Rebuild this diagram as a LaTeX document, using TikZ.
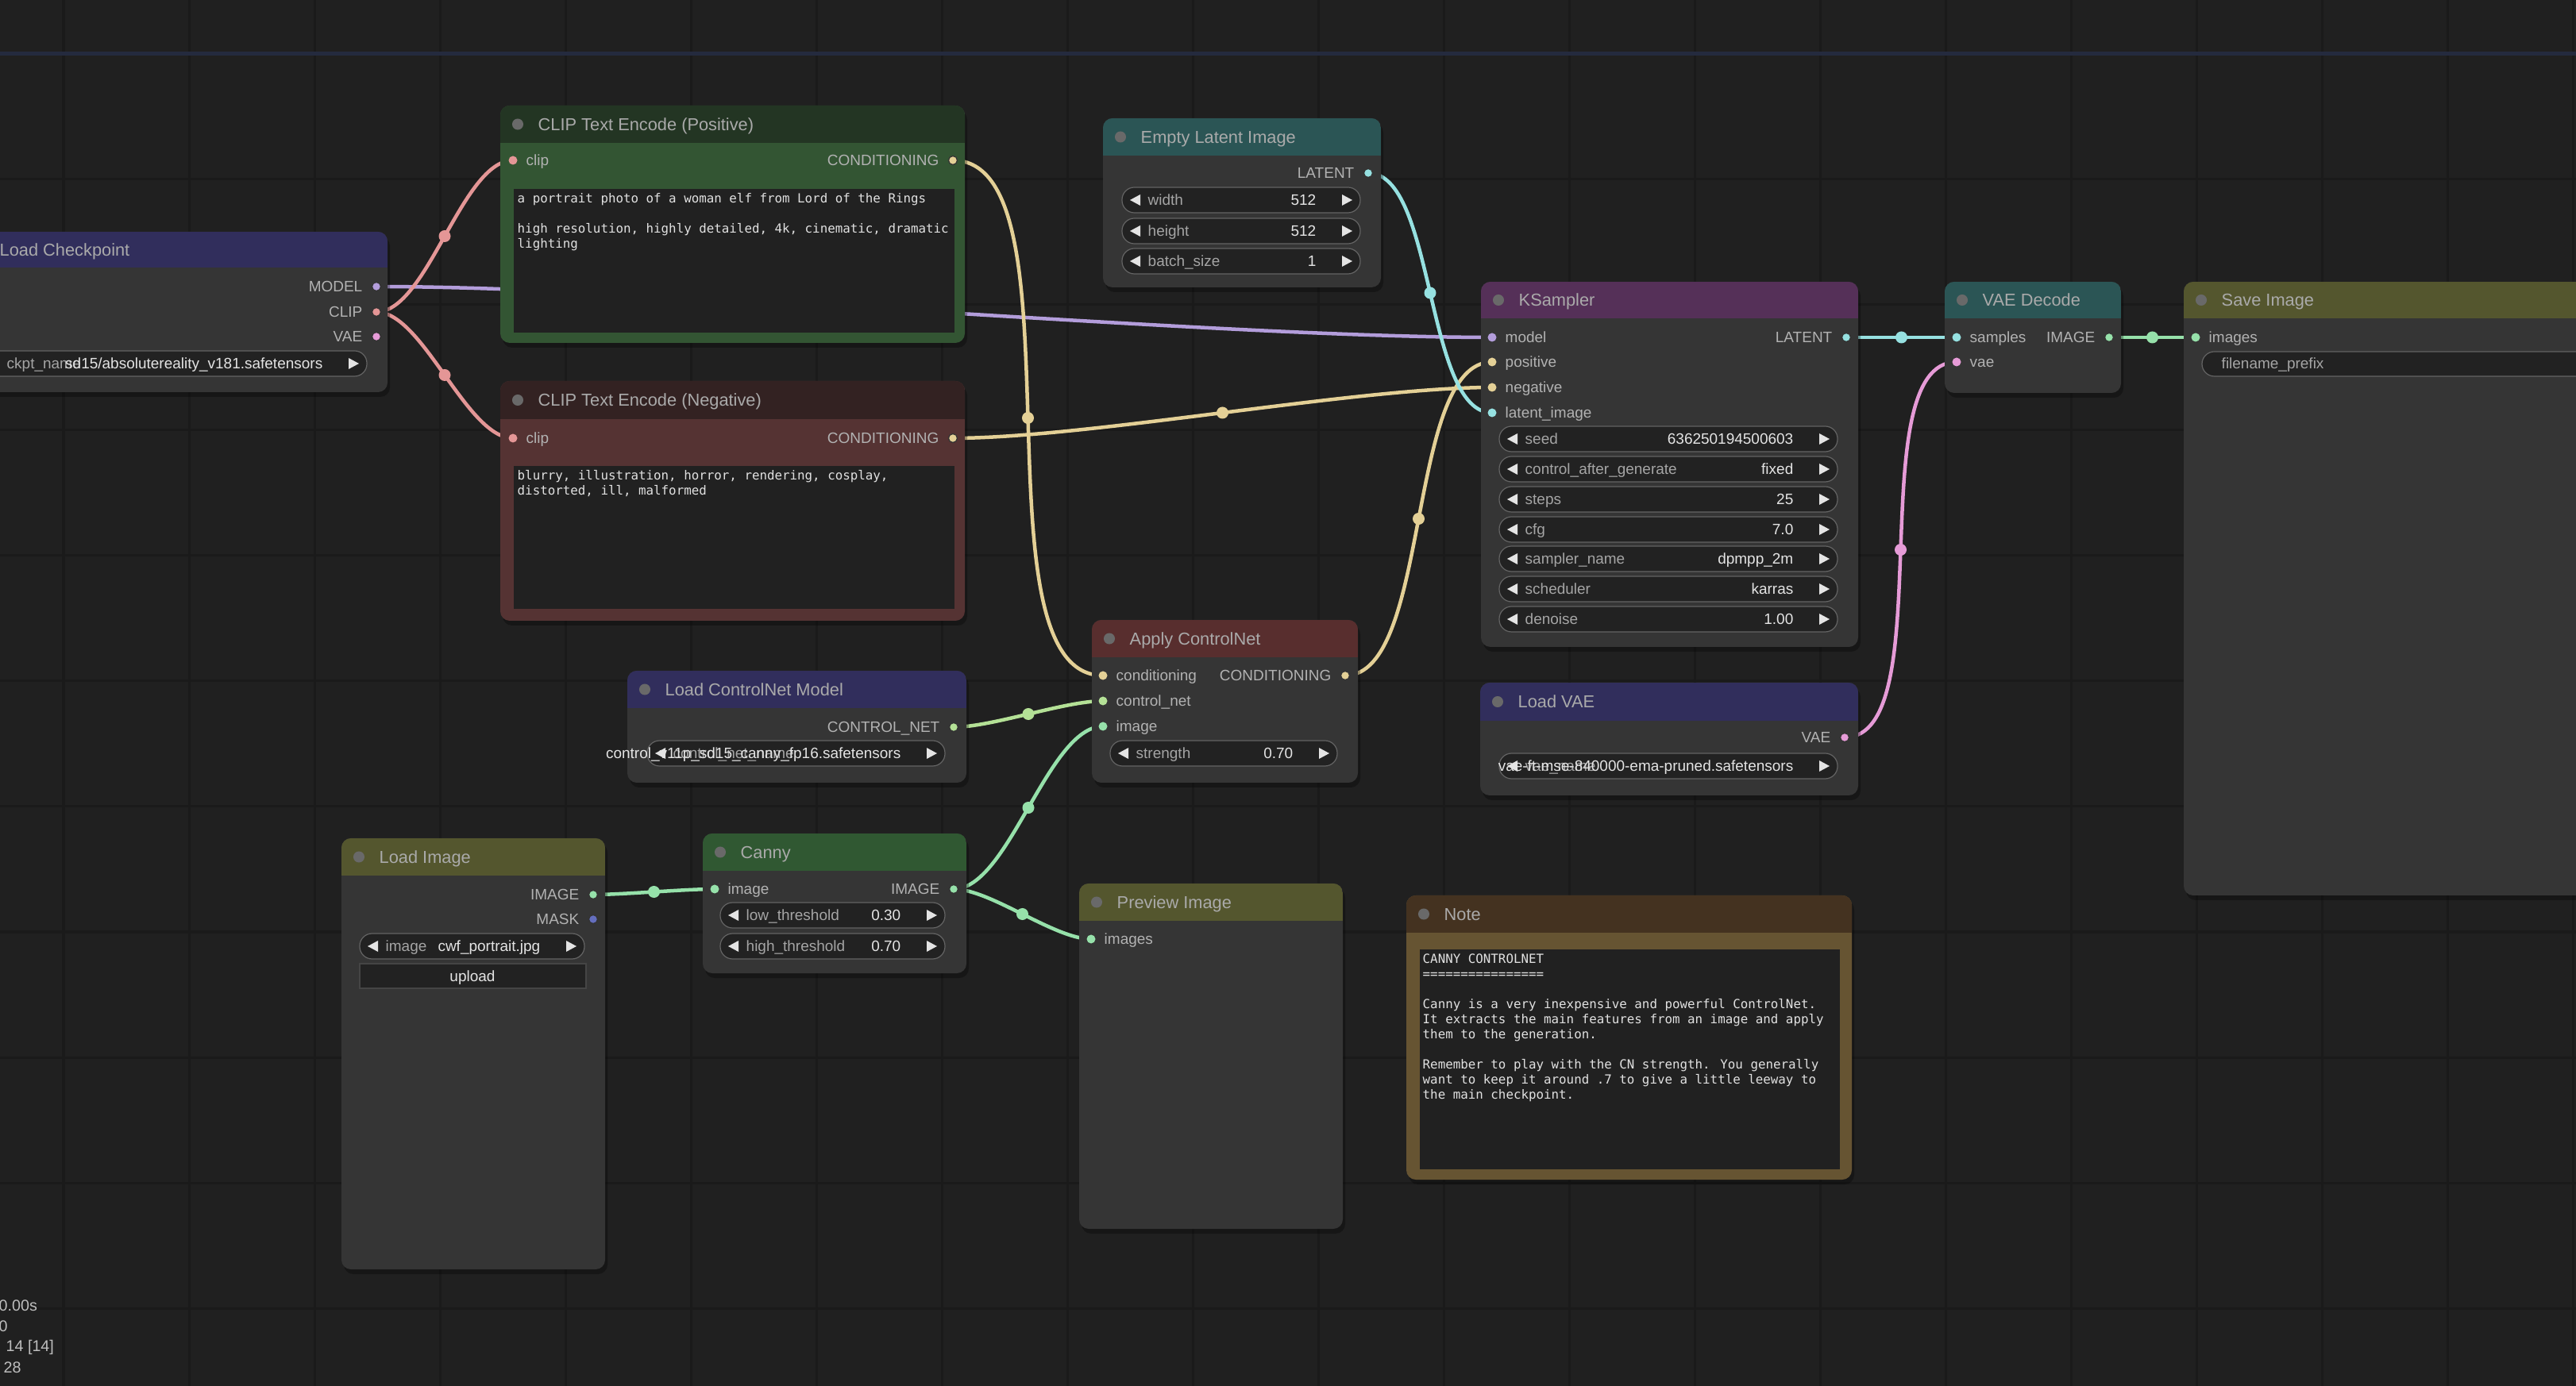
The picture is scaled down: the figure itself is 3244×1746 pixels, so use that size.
\documentclass[tikz,border=0pt]{standalone}
\usepackage{fontspec}
\setmainfont{Liberation Sans}
\newfontfamily\codefont{DejaVu Sans Mono}
\usetikzlibrary{calc}

\definecolor{canvasbg}{RGB}{32,32,32}
\definecolor{gridln}{RGB}{26,26,26}
\definecolor{topline}{RGB}{36,42,62}
\definecolor{cardbody}{RGB}{53,53,53}
\definecolor{headblue}{RGB}{49,46,92}
\definecolor{headgreen}{RGB}{35,53,35}
\definecolor{bodygreen}{RGB}{51,85,51}
\definecolor{headred}{RGB}{51,34,34}
\definecolor{bodyred}{RGB}{85,51,51}
\definecolor{headteal}{RGB}{43,85,85}
\definecolor{headpurple}{RGB}{85,48,88}
\definecolor{headolive}{RGB}{84,86,46}
\definecolor{headbrown}{RGB}{68,50,32}
\definecolor{bodybrown}{RGB}{102,84,50}
\definecolor{headapply}{RGB}{88,46,46}
\definecolor{headcanny}{RGB}{48,88,50}
\definecolor{textarea}{RGB}{33,33,33}
\definecolor{titletxt}{RGB}{170,170,170}
\definecolor{slottxt}{RGB}{178,178,178}
\definecolor{knobfill}{RGB}{34,34,34}
\definecolor{knobedge}{RGB}{100,100,100}
\definecolor{knoblbl}{RGB}{165,165,165}
\definecolor{knobval}{RGB}{228,228,228}
\definecolor{titledotc}{RGB}{105,105,105}
\definecolor{codetxt}{RGB}{225,225,225}
\definecolor{stattxt}{RGB}{190,190,190}
\definecolor{modelc}{RGB}{179,157,219}
\definecolor{clipc}{RGB}{228,150,150}
\definecolor{condc}{RGB}{228,208,150}
\definecolor{latentc}{RGB}{150,225,225}
\definecolor{vaec}{RGB}{230,155,215}
\definecolor{imagec}{RGB}{150,225,170}
\definecolor{cnetc}{RGB}{180,225,150}
\definecolor{maskc}{RGB}{100,110,190}

\pgfdeclarelayer{canvas}
\pgfdeclarelayer{wires}
\pgfsetlayers{canvas,wires,main}

\tikzstyle{gridline} = [draw=gridln, line width=0.03cm]
\tikzstyle{cardshape} = [rounded corners=3.4pt]
\tikzstyle{cardshade} = [fill=black, opacity=0.3, rounded corners=3.4pt]
\tikzstyle{cardtitle} = [anchor=west, inner sep=0pt, text=titletxt, text height=4.4pt, text depth=0pt, font=\fontsize{6.2}{7.4}\selectfont]
\tikzstyle{slotin} = [anchor=west, inner sep=0pt, text=slottxt, text height=3.9pt, text depth=0pt, font=\fontsize{5.4}{6.5}\selectfont]
\tikzstyle{slotout} = [slotin, anchor=east]
\tikzstyle{port} = [circle, inner sep=0pt, minimum size=0.11cm]
\tikzstyle{outport} = [port, draw=black!80, line width=0.35pt]
\tikzstyle{hub} = [circle, inner sep=0pt, minimum size=0.15cm]
\tikzstyle{wire} = [line width=0.045cm]
\tikzstyle{knobbox} = [draw=knobedge, fill=knobfill, line width=0.012cm, rounded corners=4.4pt]
\tikzstyle{knobarrow} = [fill=knobval]
\tikzstyle{knoblabel} = [anchor=west, inner sep=0pt, text=knoblbl, text height=3.9pt, text depth=0pt, font=\fontsize{5.4}{6.5}\selectfont]
\tikzstyle{knobvalue} = [knoblabel, anchor=east, text=knobval]
\tikzstyle{uploadbox} = [draw=knobedge!120, fill=knobfill, line width=0.015cm]
\tikzstyle{uploadtext} = [knoblabel, anchor=center, text=knobval]
\tikzstyle{codetext} = [anchor=north west, inner sep=0pt, align=left, text=codetxt, font=\codefont\fontsize{4.5}{5.4}\selectfont]
\tikzstyle{statline} = [anchor=west, inner sep=0pt, text=stattxt, font=\fontsize{5.6}{6.7}\selectfont]

% name, x1, y1, x2, y2, title bottom, head colour, body colour, title
\newcommand{\card}[9]{%
  \fill[cardshade] ({#2+3},{#3+6}) rectangle ({#4+3},{#5+6});
  \fill[cardshape, fill=#8] (#2,#3) rectangle (#4,#5);
  \begin{scope}
    \clip[cardshape] (#2,#3) rectangle (#4,#5);
    \fill[#7] (#2,#3) rectangle (#4,#6);
  \end{scope}
  \fill[titledotc] ({#2+22},{(#3+#6)/2}) circle (2pt);
  \node[cardtitle] (#1) at ({#2+47},{(#3+#6)/2}) {#9};
}
% name, x1, x2, y, label, value
\newcommand{\knob}[6]{%
  \path[knobbox] (#2,{#4-16}) rectangle (#3,{#4+16});
  \fill[knobarrow] ({#2+10},#4) -- ({#2+23},{#4-7}) -- ({#2+23},{#4+7}) -- cycle;
  \fill[knobarrow] ({#3-10},#4) -- ({#3-23},{#4-7}) -- ({#3-23},{#4+7}) -- cycle;
  \node[knoblabel] (#1-lbl) at ({#2+32},#4) {#5};
  \node[knobvalue] (#1-val) at ({#3-55},#4) {#6};
}
\newcommand{\inport}[5]{%
  \node[port, fill=#4] (#1) at (#2,#3) {};
  \node[slotin] (#1-lbl) at ({#2+16},#3) {#5};
}
\newcommand{\outport}[5]{%
  \node[outport, fill=#4] (#1) at (#2,#3) {};
  \node[slotout] (#1-lbl) at ({#2-17},#3) {#5};
}
% colour, from, to
\newcommand{\wire}[3]{%
  \draw[wire, draw=#1] let \p1=(#2.center), \p2=(#3.center), \n1={0.25*veclen(\x2-\x1,\y2-\y1)} in
    (\p1) .. controls +(\n1,0pt) and +(-\n1,0pt) .. (\p2) node[hub, fill=#1, pos=0.5] (hub-#3) {};
}

\begin{document}
\begin{tikzpicture}[x=0.01cm, y=-0.01cm]
	\useasboundingbox (0,0) rectangle (3244,1746);
	\begin{pgfonlayer}{canvas}
		\fill[canvasbg] (0,0) rectangle (3244,1746);
		\foreach \gx in {80,238,...,3244} \draw[gridline] (\gx,0) -- (\gx,1746);
		\foreach \gy in {226,384,...,1746} \draw[gridline] (0,\gy) -- (3244,\gy);
		\draw[draw=topline, line width=0.05cm] (0,68) -- (3244,68);
	\end{pgfonlayer}
	
	\card{ckpt}{-48}{292}{488}{494}{337}{headblue}{cardbody}{Load Checkpoint}
	\outport{ckpt-model}{474}{361}{modelc}{MODEL}
	\outport{ckpt-clip}{474}{393}{clipc}{CLIP}
	\outport{ckpt-vae}{474}{424}{vaec}{VAE}
	\knob{ckpt-name}{-24}{462}{458}{ckpt\_name}{sd15/absolutereality\_v181.safetensors}
	
	\card{pos}{630}{133}{1215}{432}{180}{headgreen}{bodygreen}{CLIP Text Encode (Positive)}
	\inport{pos-clip}{646}{202}{clipc}{clip}
	\outport{pos-cond}{1200}{202}{condc}{CONDITIONING}
	\fill[textarea] (647,238) rectangle (1202,419);
	\node[codetext] (pos-text) at (651,243) {a portrait photo of a woman elf from Lord of the Rings\\[5.4pt]high resolution, highly detailed, 4k, cinematic, dramatic\\lighting};
	
	\card{neg}{630}{480}{1215}{782}{528}{headred}{bodyred}{CLIP Text Encode (Negative)}
	\inport{neg-clip}{646}{552}{clipc}{clip}
	\outport{neg-cond}{1200}{552}{condc}{CONDITIONING}
	\fill[textarea] (647,587) rectangle (1202,767);
	\node[codetext] (neg-text) at (651,592) {blurry, illustration, horror, rendering, cosplay,\\distorted, ill, malformed};
	
	\card{latent}{1389}{149}{1739}{362}{196}{headteal}{cardbody}{Empty Latent Image}
	\outport{latent-out}{1723}{218}{latentc}{LATENT}
	\knob{latent-w}{1413}{1713}{252}{width}{512}
	\knob{latent-h}{1413}{1713}{291}{height}{512}
	\knob{latent-b}{1413}{1713}{329}{batch\_size}{1}
	
	\card{ks}{1865}{355}{2340}{815}{401}{headpurple}{cardbody}{KSampler}
	\inport{ks-model}{1879}{425}{modelc}{model}
	\inport{ks-pos}{1879}{456}{condc}{positive}
	\inport{ks-neg}{1879}{488}{condc}{negative}
	\inport{ks-latent}{1879}{520}{latentc}{latent\_image}
	\outport{ks-out}{2325}{425}{latentc}{LATENT}
	\knob{ks-seed}{1888}{2314}{553}{seed}{636250194500603}
	\knob{ks-ctrl}{1888}{2314}{591}{control\_after\_generate}{fixed}
	\knob{ks-steps}{1888}{2314}{629}{steps}{25}
	\knob{ks-cfg}{1888}{2314}{667}{cfg}{7.0}
	\knob{ks-sampler}{1888}{2314}{704}{sampler\_name}{dpmpp\_2m}
	\knob{ks-sched}{1888}{2314}{742}{scheduler}{karras}
	\knob{ks-denoise}{1888}{2314}{780}{denoise}{1.00}
	
	\card{decode}{2449}{355}{2671}{495}{401}{headteal}{cardbody}{VAE Decode}
	\inport{decode-samples}{2464}{425}{latentc}{samples}
	\inport{decode-vae}{2464}{456}{vaec}{vae}
	\outport{decode-out}{2656}{425}{imagec}{IMAGE}
	
	\card{save}{2750}{355}{3400}{1128}{401}{headolive}{cardbody}{Save Image}
	\inport{save-images}{2765}{425}{imagec}{images}
	\path[knobbox] (2773,443) rectangle (3400,474);
	\node[knoblabel] (save-prefix) at (2797,458) {filename\_prefix};
	
	\card{vaeload}{1864}{860}{2340}{1002}{908}{headblue}{cardbody}{Load VAE}
	\outport{vaeload-out}{2323}{929}{vaec}{VAE}
	\knob{vaeload-name}{1888}{2314}{965}{vae\_name}{vae-ft-mse-840000-ema-pruned.safetensors}
	
	\card{note}{1771}{1128}{2332}{1486}{1175}{headbrown}{bodybrown}{Note}
	\fill[textarea] (1788,1196) rectangle (2317,1473);
	\node[codetext] (note-text) at (1791,1201) {CANNY CONTROLNET\\================\\[5.4pt]Canny is a very inexpensive and powerful ControlNet.\\It extracts the main features from an image and apply\\them to the generation.\\[5.4pt]Remember to play with the CN strength. You generally\\want to keep it around .7 to give a little leeway to\\the main checkpoint.};
	
	\card{apply}{1375}{781}{1710}{986}{828}{headapply}{cardbody}{Apply ControlNet}
	\inport{apply-cond}{1389}{851}{condc}{conditioning}
	\inport{apply-cnet}{1389}{883}{cnetc}{control\_net}
	\inport{apply-image}{1389}{915}{imagec}{image}
	\outport{apply-out}{1694}{851}{condc}{CONDITIONING}
	\knob{apply-strength}{1398}{1684}{949}{strength}{0.70}
	
	\card{cnet}{790}{845}{1217}{986}{892}{headblue}{cardbody}{Load ControlNet Model}
	\outport{cnet-out}{1201}{916}{cnetc}{CONTROL\_NET}
	\knob{cnet-name}{815}{1190}{949}{control\_net\_name}{control\_v11p\_sd15\_canny\_fp16.safetensors}
	
	\card{canny}{885}{1050}{1217}{1226}{1097}{headcanny}{cardbody}{Canny}
	\inport{canny-image}{900}{1120}{imagec}{image}
	\outport{canny-out}{1201}{1120}{imagec}{IMAGE}
	\knob{canny-low}{907}{1190}{1153}{low\_threshold}{0.30}
	\knob{canny-high}{907}{1190}{1192}{high\_threshold}{0.70}
	
	\card{preview}{1359}{1113}{1691}{1548}{1160}{headolive}{cardbody}{Preview Image}
	\inport{preview-images}{1374}{1183}{imagec}{images}
	
	\card{loadimg}{430}{1056}{762}{1599}{1103}{headolive}{cardbody}{Load Image}
	\outport{loadimg-out}{747}{1127}{imagec}{IMAGE}
	\outport{loadimg-mask}{747}{1158}{maskc}{MASK}
	\knob{loadimg-file}{453}{736}{1192}{image}{cwf\_portrait.jpg}
	\draw[uploadbox] (453,1214) rectangle (738,1245);
	\node[uploadtext] (loadimg-upload) at (595,1230) {upload};
	
	\node[statline] (stat-time) at (-2,1645) {0.00s};
	\node[statline] (stat-a) at (-2,1671) {0};
	\node[statline] (stat-b) at (7,1697) {14 [14]};
	\node[statline] (stat-c) at (4,1723) {28};
	
	\begin{pgfonlayer}{wires}
		\wire{modelc}{ckpt-model}{ks-model}
		\wire{clipc}{ckpt-clip}{pos-clip}
		\wire{clipc}{ckpt-clip}{neg-clip}
		\wire{condc}{pos-cond}{apply-cond}
		\wire{condc}{neg-cond}{ks-neg}
		\wire{condc}{apply-out}{ks-pos}
		\wire{latentc}{latent-out}{ks-latent}
		\wire{latentc}{ks-out}{decode-samples}
		\wire{vaec}{vaeload-out}{decode-vae}
		\wire{imagec}{decode-out}{save-images}
		\wire{cnetc}{cnet-out}{apply-cnet}
		\wire{imagec}{loadimg-out}{canny-image}
		\wire{imagec}{canny-out}{apply-image}
		\wire{imagec}{canny-out}{preview-images}
	\end{pgfonlayer}
\end{tikzpicture}
\end{document}
